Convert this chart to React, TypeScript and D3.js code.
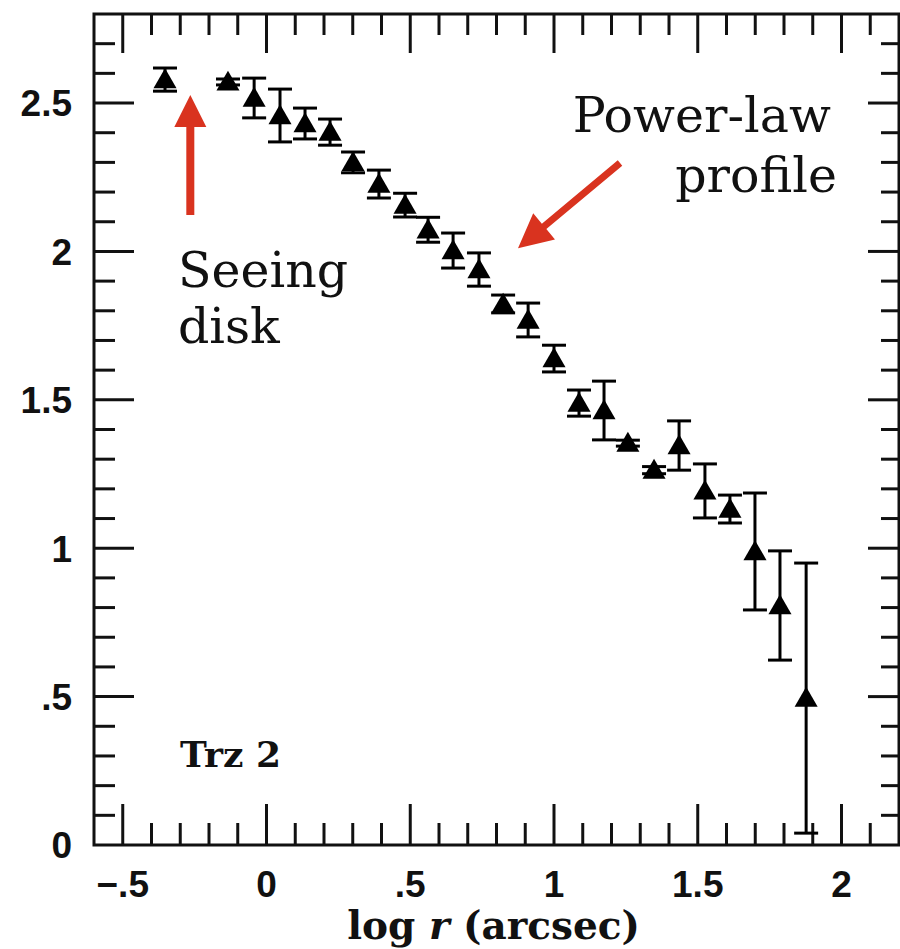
import React from "react";
import * as d3 from "d3";

// ---- data ----
const logR = [
  -0.353, -0.134, -0.043, 0.047, 0.134, 0.221, 0.301, 0.391, 0.482, 0.562,
  0.649, 0.739, 0.823, 0.91, 1.0, 1.087, 1.174, 1.257, 1.348, 1.435, 1.525,
  1.612, 1.699, 1.786, 1.877,
];
const mu = [
  2.579, 2.571, 2.517, 2.458, 2.431, 2.402, 2.3, 2.227, 2.156, 2.073, 2.003,
  1.939, 1.823, 1.769, 1.639, 1.489, 1.464, 1.354, 1.263, 1.346, 1.193, 1.132,
  0.989, 0.807, 0.495,
];
const err = [
  0.039, 0.01, 0.067, 0.089, 0.052, 0.044, 0.035, 0.047, 0.04, 0.042, 0.059,
  0.056, 0.03, 0.057, 0.045, 0.044, 0.099, 0.01, 0.012, 0.083, 0.091, 0.047,
  0.197, 0.184, 0.455,
];
const xMajorTicks = [-0.5, 0, 0.5, 1, 1.5, 2];
const xTickLabels = ["\u2212.5", "0", ".5", "1", "1.5", "2"];
const yMajorTicks = [0, 0.5, 1, 1.5, 2, 2.5];
const yTickLabels = ["0", ".5", "1", "1.5", "2", "2.5"];
const xDomain = [-0.6, 2.2];
const yDomain = [0, 2.8];

const W = 900;
const H = 949;

const SERIF = "DejaVu Serif, serif";

export default function App() {
  const x = d3.scaleLinear().domain(xDomain).range([94, 899]);
  const y = d3.scaleLinear().domain(yDomain).range([845, 14]);

  const xMinor = d3
    .range(-5, 22)
    .map((i) => Math.round(i) / 10)
    .filter((v) => v > xDomain[0] + 1e-9 && v < xDomain[1] - 1e-9);
  const yMinor = d3.range(1, 28).map((i) => i / 10);
  const isMajor = (v: number) => Math.abs(v * 2 - Math.round(v * 2)) < 1e-6;

  const tri = d3.symbol().type(d3.symbolTriangle).size(230)();

  const red = "#d9331f";
  const x0 = x(xDomain[0]);
  const x1 = x(xDomain[1]);
  const y0 = y(yDomain[0]);
  const y1 = y(yDomain[1]);

  // vertical arrow (data coords)
  const vaX = x(-0.265);
  const vaTail = y(2.123);
  const vaTip = y(2.527);
  const headLen = 32;
  const headHalf = 16;
  const shaftHalf = 4;

  // diagonal arrow
  const daTail: [number, number] = [x(1.2296), y(2.298)];
  const daTip: [number, number] = [x(0.8748), y(2.011)];
  const dx = daTip[0] - daTail[0];
  const dy = daTip[1] - daTail[1];
  const len = Math.hypot(dx, dy);
  const ux = dx / len;
  const uy = dy / len;
  const px = -uy;
  const py = ux;
  const hb: [number, number] = [daTip[0] - ux * 34, daTip[1] - uy * 34];
  const diagPts = [
    [daTail[0] + px * 3.5, daTail[1] + py * 3.5],
    [hb[0] + px * 3.5, hb[1] + py * 3.5],
    [hb[0] + px * 17, hb[1] + py * 17],
    daTip,
    [hb[0] - px * 17, hb[1] - py * 17],
    [hb[0] - px * 3.5, hb[1] - py * 3.5],
    [daTail[0] - px * 3.5, daTail[1] - py * 3.5],
  ];

  const tickStroke = 3;

  return (
    <svg
      width={W}
      height={H}
      style={{ position: "absolute", left: 0, top: 0, background: "#fff" }}
    >
      <rect x={0} y={0} width={W} height={H} fill="#fff" />

      {/* x ticks bottom & top */}
      {xMinor.map((v, i) => {
        const L = isMajor(v) ? 41 : 22;
        return (
          <g key={"xt" + i} stroke="#111" strokeWidth={tickStroke}>
            <line x1={x(v)} x2={x(v)} y1={y0} y2={y0 - L} />
            <line x1={x(v)} x2={x(v)} y1={y1} y2={y1 + (isMajor(v) ? 39 : 21)} />
          </g>
        );
      })}
      {/* y ticks left & right */}
      {yMinor.map((v, i) => {
        const maj = isMajor(v);
        return (
          <g key={"yt" + i} stroke="#111" strokeWidth={tickStroke}>
            <line x1={x0} x2={x0 + (maj ? 40 : 21)} y1={y(v)} y2={y(v)} />
            <line x1={x1} x2={x1 - (maj ? 31 : 18)} y1={y(v)} y2={y(v)} />
          </g>
        );
      })}

      {/* frame */}
      <rect
        x={x0}
        y={y1}
        width={x1 - x0}
        height={y0 - y1}
        fill="none"
        stroke="#111"
        strokeWidth={3}
      />

      {/* tick labels */}
      {xMajorTicks.map((v, i) => (
        <text
          key={"xl" + i}
          x={x(v)}
          y={897}
          textAnchor="middle"
          fontFamily="Liberation Sans, Arial, sans-serif"
          fontWeight="bold"
          fontSize={37}
          fill="#111"
        >
          {xTickLabels[i]}
        </text>
      ))}
      {yMajorTicks.map((v, i) => (
        <text
          key={"yl" + i}
          x={72}
          y={y(v)}
          dy="0.36em"
          textAnchor="end"
          fontFamily="Liberation Sans, Arial, sans-serif"
          fontWeight="bold"
          fontSize={37}
          fill="#111"
        >
          {yTickLabels[i]}
        </text>
      ))}

      {/* axis title */}
      <text
        x={x(0.79)}
        y={939}
        textAnchor="middle"
        fontFamily="DejaVu Serif, serif"
        fontWeight="bold"
        fontSize={39}
        fill="#111"
      >
        log <tspan fontStyle="italic">r</tspan> (arcsec)
      </text>

      {/* data: error bars + triangles */}
      {logR.map((lr, i) => {
        const cx = x(lr);
        const yt = y(mu[i] + err[i]);
        const yb = y(mu[i] - err[i]);
        return (
          <g key={"p" + i} stroke="#000" strokeWidth={3}>
            <line x1={cx} x2={cx} y1={yt} y2={yb} />
            <line x1={cx - 12} x2={cx + 12} y1={yt} y2={yt} />
            <line x1={cx - 12} x2={cx + 12} y1={yb} y2={yb} />
            <path
              d={tri || ""}
              transform={`translate(${cx},${y(mu[i]) + 2})`}
              fill="#000"
              stroke="none"
            />
          </g>
        );
      })}

      {/* label Trz 2 */}
      <text
        x={x(-0.301)}
        y={y(0.263)}
        fontFamily="DejaVu Serif, serif"
        fontWeight="bold"
        fontSize={36}
        fill="#111"
      >
        Trz 2
      </text>

      {/* annotations */}
      <path
        d={`M${vaX - shaftHalf},${vaTail} L${vaX - shaftHalf},${vaTip + headLen} L${vaX - headHalf},${vaTip + headLen} L${vaX},${vaTip} L${vaX + headHalf},${vaTip + headLen} L${vaX + shaftHalf},${vaTip + headLen} L${vaX + shaftHalf},${vaTail} Z`}
        fill={red}
      />
      <path d={"M" + diagPts.map((p) => p.join(",")).join(" L") + " Z"} fill={red} />

      <text x={x(-0.308)} y={y(1.88)} fontFamily={SERIF} fontSize={49} fill="#111">
        Seeing
      </text>
      <text x={x(-0.308)} y={y(1.69)} fontFamily={SERIF} fontSize={49} fill="#111">
        disk
      </text>
      <text x={x(1.963)} y={y(2.402)} textAnchor="end" fontFamily={SERIF} fontSize={49} fill="#111">
        Power-law
      </text>
      <text x={x(1.984)} y={y(2.2)} textAnchor="end" fontFamily={SERIF} fontSize={49} fill="#111">
        profile
      </text>
    </svg>
  );
}
